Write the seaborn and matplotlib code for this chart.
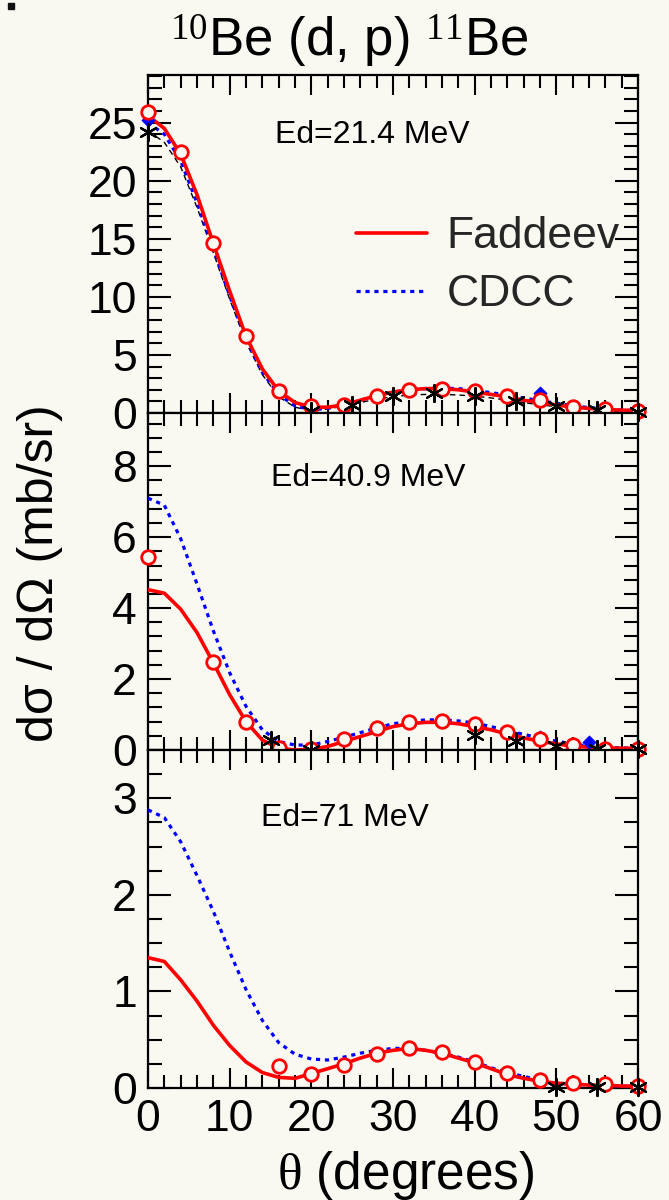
import matplotlib
matplotlib.use("Agg")
import matplotlib.pyplot as plt
import seaborn as sns
import pandas as pd
from matplotlib.ticker import MultipleLocator, FixedLocator
from matplotlib.patches import Rectangle

sns.set_theme(style="ticks")
plt.rcParams["font.family"] = ["Liberation Sans", "DejaVu Sans"]
plt.rcParams["mathtext.fontset"] = "custom"
plt.rcParams["mathtext.rm"] = "Liberation Serif"
plt.rcParams["mathtext.it"] = "Liberation Serif:italic"
plt.rcParams["mathtext.bf"] = "Liberation Serif:bold"
BG = "#f9f8f1"

# ---------------- data ----------------
theta = list(range(0, 61, 2))

# Ed = 21.4 MeV
fad_21 = [25.6, 24.5, 22.3, 18.8, 14.6, 10.5, 6.6, 3.8, 1.9, 0.9, 0.5, 0.5, 0.7, 1.1, 1.5, 1.8,
          2.0, 2.1, 2.1, 2.0, 1.8, 1.6, 1.4, 1.1, 0.9, 0.7, 0.5, 0.4, 0.3, 0.25, 0.2]
cdcc_21 = [25.0, 24.0, 21.7, 18.1, 14.1, 10.1, 6.3, 3.5, 1.6, 0.6, 0.3, 0.4, 0.7, 1.1, 1.5, 1.8,
           2.0, 2.1, 2.15, 2.1, 1.95, 1.75, 1.55, 1.3, 1.05, 0.85, 0.62, 0.47, 0.35, 0.25, 0.2]
dash_21 = [24.3, 23.3, 21.2, 17.7, 13.8, 9.8, 6.1, 3.3, 1.4, 0.5, 0.2, 0.35, 0.6, 0.9, 1.2, 1.4,
           1.55, 1.6, 1.6, 1.55, 1.45, 1.3, 1.1, 0.9, 0.7, 0.55, 0.4, 0.3, 0.2, 0.15, 0.1]
circ_th_21 = [0, 4, 8, 12, 16, 20, 24, 28, 32, 36, 40, 44, 48, 52, 56, 60]
circ_21 = [25.9, 22.5, 14.6, 6.6, 1.9, 0.6, 0.7, 1.5, 2.0, 2.1, 1.9, 1.5, 1.1, 0.5, 0.35, 0.15]
star_th_21 = [0, 20, 25, 30, 35, 40, 45, 50, 55, 60]
star_21 = [24.2, 0.2, 0.7, 1.5, 1.7, 1.5, 1.0, 0.6, 0.3, 0.1]
diam_th_21 = [0, 48, 60]
diam_21 = [25.2, 1.7, 0.15]

# Ed = 40.9 MeV
fad_41 = [4.52, 4.42, 3.97, 3.31, 2.46, 1.56, 0.8, 0.28, 0.05, 0.0, 0.02, 0.1, 0.24, 0.38, 0.52, 0.66,
          0.74, 0.78, 0.78, 0.74, 0.66, 0.57, 0.45, 0.34, 0.25, 0.17, 0.11, 0.08, 0.06, 0.05, 0.05]
cdcc_41 = [7.1, 6.9, 5.96, 4.68, 3.36, 2.18, 1.23, 0.57, 0.24, 0.14, 0.14, 0.24, 0.36, 0.49, 0.62, 0.74,
           0.8, 0.85, 0.85, 0.82, 0.76, 0.66, 0.55, 0.44, 0.34, 0.25, 0.17, 0.11, 0.08, 0.06, 0.05]
circ_th_41 = [0, 8, 12, 16, 20, 24, 28, 32, 36, 40, 44, 48, 52, 56, 60]
circ_41 = [5.44, 2.48, 0.8, 0.06, 0.02, 0.3, 0.62, 0.79, 0.81, 0.73, 0.51, 0.3, 0.14, 0.03, 0.02]
star_th_41 = [15, 20, 40, 45, 50, 55, 60]
star_41 = [0.28, 0.0, 0.43, 0.26, 0.11, 0.03, 0.02]
diam_th_41 = [48, 54, 60]
diam_41 = [0.37, 0.23, 0.06]

# Ed = 71 MeV
fad_71 = [1.35, 1.31, 1.12, 0.9, 0.65, 0.44, 0.27, 0.16, 0.11, 0.1, 0.15, 0.2, 0.25, 0.31, 0.36, 0.39,
          0.41, 0.39, 0.36, 0.31, 0.26, 0.2, 0.14, 0.1, 0.07, 0.05, 0.04, 0.03, 0.03, 0.02, 0.02]
cdcc_71 = [2.88, 2.8, 2.55, 2.2, 1.83, 1.41, 1.02, 0.7, 0.47, 0.35, 0.3, 0.29, 0.32, 0.36, 0.39, 0.41,
           0.41, 0.39, 0.36, 0.32, 0.27, 0.21, 0.16, 0.12, 0.08, 0.05, 0.04, 0.03, 0.02, 0.02, 0.01]
circ_th_71 = [16, 20, 24, 28, 32, 36, 40, 44, 48, 52, 56, 60]
circ_71 = [0.23, 0.15, 0.24, 0.35, 0.41, 0.37, 0.27, 0.16, 0.08, 0.05, 0.04, 0.02]
star_th_71 = [50, 55, 60]
star_71 = [0.01, 0.01, 0.01]
diam_th_71 = [60]
diam_71 = [0.02]

energies = ["Ed=21.4 MeV", "Ed=40.9 MeV", "Ed=71 MeV"]
ylims = [29.1, 9.5, 3.5]
yticks = [[0, 5, 10, 15, 20, 25], [0, 2, 4, 6, 8], [0, 1, 2, 3]]
yminor = [1, 0.4, 0.25]
label_pos = [(0.457, 0.822), (0.449, 0.807), (0.402, 0.80)]

panels = [
    (fad_21, cdcc_21, dash_21, circ_th_21, circ_21, star_th_21, star_21, diam_th_21, diam_21),
    (fad_41, cdcc_41, None, circ_th_41, circ_41, star_th_41, star_41, diam_th_41, diam_41),
    (fad_71, cdcc_71, None, circ_th_71, circ_71, star_th_71, star_71, diam_th_71, diam_71),
]

# ---------------- figure ----------------
fig = plt.figure(figsize=(6.69, 12), dpi=100, facecolor=BG)
W, H = 669, 1200
left, right = 148 / W, 638 / W
tops = [75, 413, 750]
bots = [413, 750, 1088]

for i, (t, b) in enumerate(zip(tops, bots)):
    fad, cdcc, dash, cth, cv, sth, sv, dth, dv = panels[i]
    ax = fig.add_axes([left, 1 - b / H, right - left, (b - t) / H])
    ax.set_facecolor(BG)

    if dash is not None:
        sns.lineplot(x=theta, y=dash, ax=ax, color="black", linewidth=1.0,
                     linestyle=(0, (4, 3)), zorder=2)
    sns.lineplot(x=theta, y=cdcc, ax=ax, color="blue", linewidth=2.3,
                 linestyle=(0, (1.3, 1.5)), zorder=3, label="CDCC")
    sns.lineplot(x=theta, y=fad, ax=ax, color="red", linewidth=2.6, zorder=4, label="Faddeev")
    sns.scatterplot(x=dth, y=dv, ax=ax, marker="D", s=45, color="blue", edgecolor="blue",
                    zorder=5, legend=False, clip_on=False)
    sns.scatterplot(x=cth, y=cv, ax=ax, marker="o", s=95, color=BG, edgecolor="red",
                    linewidth=2.0, zorder=6, legend=False, clip_on=False)
    sns.scatterplot(x=sth, y=sv, ax=ax, marker=(6, 2, 0), s=150, color="black",
                    linewidth=1.6, zorder=7, legend=False, clip_on=False)

    ax.set_xlim(0, 60)
    ax.set_ylim(0, ylims[i])
    ax.xaxis.set_major_locator(MultipleLocator(10))
    ax.xaxis.set_minor_locator(MultipleLocator(2))
    ax.yaxis.set_major_locator(FixedLocator(yticks[i]))
    ax.yaxis.set_minor_locator(MultipleLocator(yminor[i]))
    ax.tick_params(which="both", direction="in", top=True, right=True, width=1.5,
                   color="black", labelsize=32, labelcolor="black")
    ax.tick_params(axis="x", which="major", length=14.5, pad=8)
    ax.tick_params(axis="x", which="minor", length=9.5)
    ax.tick_params(axis="y", which="major", length=16.5, pad=8)
    ax.tick_params(axis="y", which="minor", length=10)
    for sp in ax.spines.values():
        sp.set_linewidth(1.6)
        sp.set_color("black")
    ax.set_xlabel("")
    ax.set_ylabel("")
    if i < 2:
        ax.tick_params(axis="x", labelbottom=False)

    ax.text(label_pos[i][0], label_pos[i][1], energies[i], transform=ax.transAxes,
            ha="center", va="center", fontsize=23, color="black")

    if i == 0:
        h, l = ax.get_legend_handles_labels()
        order = [l.index("Faddeev"), l.index("CDCC")]
        ax.legend([h[k] for k in order], [l[k] for k in order], loc="upper left",
                  bbox_to_anchor=(0.424, 0.582), frameon=False, fontsize=32,
                  handlelength=1.6, handletextpad=0.45, labelspacing=0.38,
                  borderpad=0, borderaxespad=0)
    else:
        lg = ax.get_legend()
        if lg is not None:
            lg.remove()

fig.text(349 / W, 1 - 57 / H, r"$^{10}$Be (d, p) $^{11}$Be", ha="center", va="baseline",
         fontsize=38, color="black")
fig.text(40 / W, 1 - 573 / H, "dσ / dΩ (mb/sr)", rotation=90, ha="center", va="center",
         fontsize=36, color="black")
fig.text(406 / W, 1 - 1189 / H, r"$\mathrm{θ}$ (degrees)", ha="center", va="baseline",
         fontsize=37, color="black")
fig.patches.append(Rectangle((8 / W, 1 - 9 / H), 6 / W, 6 / H, transform=fig.transFigure,
                             color="#111111"))

fig.savefig("out.png", dpi=100, facecolor=BG)
